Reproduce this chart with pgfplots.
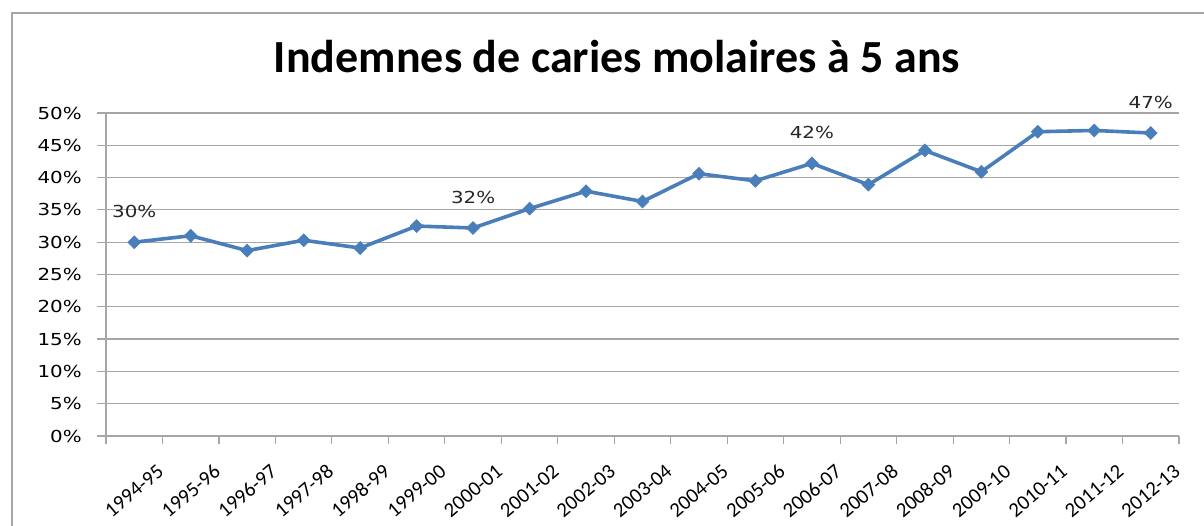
\documentclass[border=0pt]{standalone}
\usepackage{pgfplots}
\pgfplotsset{compat=1.18}
\usepackage{fontspec}
\setmainfont{Carlito}
\newfontfamily\lab[FakeStretch=1.2]{DejaVu Sans}
\definecolor{serie}{HTML}{4A7EBB}
\definecolor{grille}{HTML}{A6A6A6}
\begin{document}
\begin{tikzpicture}
\useasboundingbox (0,0) rectangle (903bp,394.5bp);
\fill[white] (0,0) rectangle (903bp,394.5bp);
\draw[grille, line width=0.9bp] (9bp,0) -- (9bp,384.75bp) -- (903bp,384.75bp);
\node[font=\fontsize{34.5bp}{38bp}\selectfont\bfseries] at (462.75bp,351.75bp) {Indemnes de caries molaires à 5 ans};
\begin{axis}[
  at={(79.5bp,67.5bp)}, anchor=south west,
  scale only axis, width=804.75bp, height=242.25bp,
  xmin=-0.5, xmax=18.5, ymin=0, ymax=50,
  clip=false,
  axis lines*=left,
  axis line style={draw=grille, line width=0.9bp, -},
  tick align=outside,
  major tick length=6.75bp, minor tick length=6bp,
  tick style={draw=grille, line width=0.9bp},
  major x tick style={draw=none},
  xtick={0,...,18},
  xticklabels={1994-95,1995-96,1996-97,1997-98,1998-99,1999-00,2000-01,2001-02,2002-03,2003-04,2004-05,2005-06,2006-07,2007-08,2008-09,2009-10,2010-11,2011-12,2012-13},
  minor xtick={-0.5,0.5,...,18.5},
  xticklabel style={rotate=40, anchor=north east, font=\fontsize{15.5bp}{17bp}\selectfont, inner sep=1bp, xshift=5bp, yshift=-20bp},
  ytick={0,5,...,50},
  yticklabel={\pgfmathprintnumber{\tick}\%},
  yticklabel style={font=\lab\fontsize{12.4bp}{14bp}\selectfont, xshift=-8bp},
  /pgf/number format/assume math mode=true,
  ymajorgrids,
  major grid style={draw=grille, line width=0.9bp},
]
\addplot[color=serie, line width=2.7bp, mark=square*, mark size=3.4bp, mark options={rotate=45, fill=serie, draw=serie, line width=0.5bp}]
coordinates {
(0,30.0) (1,31.0) (2,28.7) (3,30.3) (4,29.1) (5,32.5) (6,32.2) (7,35.2) (8,37.9) (9,36.3)
(10,40.6) (11,39.5) (12,42.2) (13,38.9) (14,44.2) (15,40.9) (16,47.1) (17,47.3) (18,46.9)
};
\addplot[draw=none, mark=none, point meta=explicit symbolic,
  nodes near coords,
  every node near coord/.append style={anchor=center, yshift=23bp, font=\lab\fontsize{12.4bp}{14bp}\selectfont, text=black!85}]
coordinates {
(0,30.0) [30\%]
(6,32.2) [32\%]
(12,42.2) [42\%]
(18,46.9) [47\%]
};
\end{axis}
\end{tikzpicture}
\end{document}
